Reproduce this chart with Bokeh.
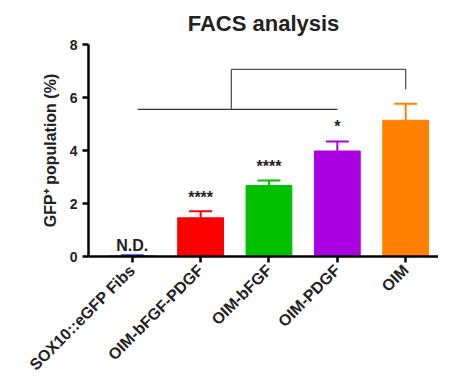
import math
from bokeh.plotting import figure
from bokeh.models import ColumnDataSource, Range1d, Whisker, TeeHead, FixedTicker, Title
from bokeh.core.properties import value
from bokeh.embed import file_html
from bokeh.resources import INLINE

categories = ["SOX10::eGFP Fibs", "OIM-bFGF-PDGF", "OIM-bFGF", "OIM-PDGF", "OIM"]
means = [0.02, 1.46, 2.68, 3.98, 5.14]
errors = [0.03, 0.25, 0.19, 0.36, 0.62]
colors = ["#3a3ad0", "#ff0000", "#00c000", "#a800e0", "#ff8000"]
sig_labels = ["N.D.", "****", "****", "*", ""]
y_ticks = [0, 2, 4, 6, 8]

# comparison brackets: lower bracket spans groups 0..3, upper links its middle to OIM
lower_bracket_y = 5.55
upper_bracket_y = 7.06
upper_bracket_drop = 6.3

FONT = "Liberation Sans"

xs = list(range(len(categories)))
tops = [m + e for m, e in zip(means, errors)]
src = ColumnDataSource(dict(x=xs, mean=means, top=tops, color=colors))

p = figure(frame_width=350, frame_height=212, output_backend="svg", toolbar_location=None,
           x_range=Range1d(-0.64, 4.48), y_range=Range1d(0, 8),
           min_border_left=88, min_border_right=0, min_border_top=0, min_border_bottom=0)

p.title = Title(text="FACS analysis", align="center", text_font=FONT,
                text_font_size="22px", text_font_style="bold", text_color="#222222",
                standoff=17)

p.vbar(x="x", top="mean", bottom=0, width=0.67, color="color", source=src)
p.add_layout(Whisker(base="x", lower="mean", upper="top", source=src,
                     line_color="color", line_width=2,
                     upper_head=TeeHead(size=23, line_color="color", line_width=2),
                     lower_head=None))

# significance labels
lab_y = [t + {"N.D.": 0.03, "*": 0.26}.get(s, 0.2) for t, s in zip(tops, sig_labels)]
p.text(x=xs, y=lab_y, text=sig_labels, text_align="center", text_baseline="bottom",
       text_font=value(FONT), text_font_size="16px", text_font_style="bold",
       text_color="#222222")

# brackets
p.line([xs[0] + 0.08, xs[3]], [lower_bracket_y, lower_bracket_y], line_color="#333333", line_width=1.3)
p.line([1.45, 1.45, xs[4], xs[4]],
       [lower_bracket_y, upper_bracket_y, upper_bracket_y, upper_bracket_drop],
       line_color="#555555", line_width=1.3)

p.xgrid.visible = False
p.ygrid.visible = False
p.outline_line_color = None

for ax in (p.xaxis, p.yaxis):
    ax.axis_line_width = 2.5
    ax.axis_line_color = "black"
    ax.major_tick_line_width = 2.5
    ax.major_tick_line_color = "black"
    ax.major_tick_out = 6
    ax.major_tick_in = 0
    ax.minor_tick_line_color = None
    ax.major_label_text_font = FONT
    ax.major_label_text_font_style = "bold"
    ax.major_label_text_color = "#222222"

p.yaxis.major_label_text_font_size = "14px"
p.xaxis.major_label_text_font_size = "16px"

p.yaxis.ticker = FixedTicker(ticks=y_ticks)
p.yaxis.axis_label = "GFP\u207a population (%)"
p.yaxis.axis_label_text_font = FONT
p.yaxis.axis_label_text_font_style = "bold"
p.yaxis.axis_label_text_font_size = "16px"
p.yaxis.axis_label_text_color = "#222222"
p.yaxis.axis_label_standoff = 8

p.xaxis.ticker = FixedTicker(ticks=xs)
p.xaxis.major_label_overrides = {i: c for i, c in enumerate(categories)}
p.xaxis.major_label_orientation = math.pi / 4

open("out.html", "w").write(file_html(p, INLINE))
